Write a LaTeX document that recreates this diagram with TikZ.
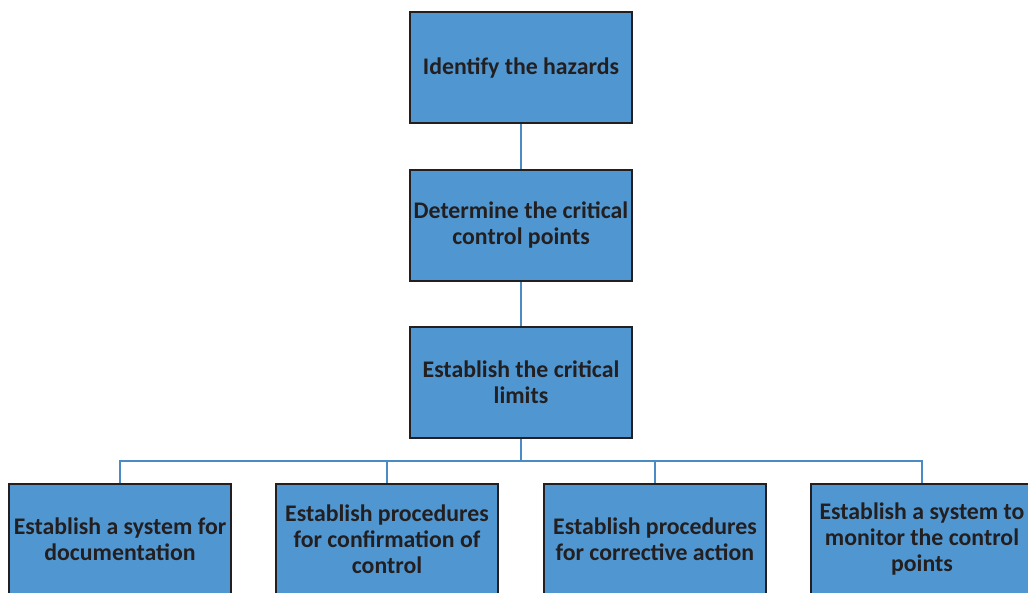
\documentclass[tikz,border=0pt]{standalone}
\usepackage{fontspec}
\setmainfont{Carlito}
\definecolor{boxfill}{RGB}{80,151,209}
\definecolor{boxline}{RGB}{35,31,32}
\definecolor{linkblue}{RGB}{74,139,198}
\tikzset{
  stepbox/.style={draw=boxline, line width=2pt, fill=boxfill,
    minimum width=222pt, minimum height=111pt, inner sep=1pt,
    align=center, text=boxline,
    font=\fontsize{23.8}{26}\selectfont\bfseries},
  link/.style={draw=linkblue, line width=2pt}
}
\begin{document}
\begin{tikzpicture}[x=1pt,y=-1pt]
  \useasboundingbox (0,0) rectangle (1028,593);
  \clip (0,0) rectangle (1028,593);
  \node[stepbox] (hz)  at (521,68)    {Identify the hazards};
  \node[stepbox] (ccp) at (521,225.5) {Determine the critical\\control points};
  \node[stepbox] (lim) at (521,382.5) {Establish the critical\\limits};
  \node[stepbox] (doc) at (120,539.5) {Establish a system for\\documentation};
  \node[stepbox] (con) at (387,539.5) {Establish procedures\\for confirmation of\\control};
  \node[stepbox] (cor) at (655,539.5) {Establish procedures\\for corrective action};
  \node[stepbox] (mon) at (922,539.5) {Establish a system to\\monitor the control\\points};
  \coordinate (bus) at (521,461);
  \draw[link] (hz.south) -- (ccp.north);
  \draw[link] (ccp.south) -- (lim.north);
  \draw[link] (lim.south) -- (bus);
  \draw[link] (bus) -| (doc.north);
  \draw[link] (bus) -| (con.north);
  \draw[link] (bus) -| (cor.north);
  \draw[link] (bus) -| (mon.north);
\end{tikzpicture}
\end{document}
